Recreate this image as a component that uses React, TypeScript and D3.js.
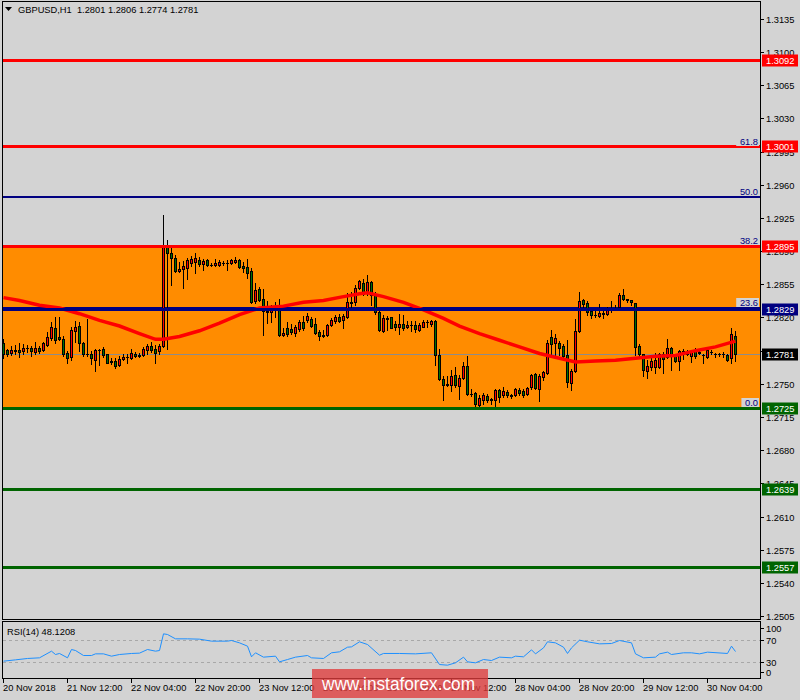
import React, { useEffect, useRef } from 'react';
import * as d3 from 'd3';

// GBPUSD H1, one entry per bar, 20 Nov 2018 20:00 -> 30 Nov 2018 11:00
const opens = [
  1.2793, 1.2786, 1.2783, 1.2786, 1.2786, 1.2785, 1.2788, 1.2788, 1.2784, 1.2788,
  1.2786, 1.2791, 1.2798, 1.2809, 1.2799, 1.2797, 1.2783, 1.2778, 1.2806, 1.2811,
  1.2793, 1.2781, 1.2782, 1.2775, 1.2786, 1.2787, 1.2781, 1.2773, 1.2774, 1.2770,
  1.2776, 1.2778, 1.2777, 1.2782, 1.2779, 1.2780, 1.2786, 1.2790, 1.2787, 1.2785,
  1.2790, 1.2895, 1.2888, 1.2883, 1.2869, 1.2871, 1.2872, 1.2878, 1.2879, 1.2881,
  1.2876, 1.2881, 1.2875, 1.2875, 1.2875, 1.2878, 1.2877, 1.2878, 1.2879, 1.2881,
  1.2874, 1.2873, 1.2869, 1.2837, 1.2850, 1.2839, 1.2827, 1.2826, 1.2829, 1.2832,
  1.2802, 1.2809, 1.2808, 1.2804, 1.2808, 1.2815, 1.2817, 1.2818, 1.2813, 1.2805,
  1.2801, 1.2802, 1.2812, 1.2816, 1.2821, 1.2817, 1.2820, 1.2836, 1.2836, 1.2851,
  1.2856, 1.2846, 1.2857, 1.2845, 1.2826, 1.2806, 1.2819, 1.2820, 1.2813, 1.2810,
  1.2813, 1.2810, 1.2812, 1.2812, 1.2807, 1.2810, 1.2815, 1.2813, 1.2816, 1.2780,
  1.2755, 1.2749, 1.2749, 1.2759, 1.2748, 1.2756, 1.2769, 1.2739, 1.2740, 1.2728,
  1.2733, 1.2737, 1.2733, 1.2733, 1.2743, 1.2738, 1.2741, 1.2738, 1.2738, 1.2744,
  1.2742, 1.2739, 1.2747, 1.2760, 1.2745, 1.2757, 1.2761, 1.2799, 1.2793, 1.2793,
  1.2790, 1.2780, 1.2751, 1.2764, 1.2806, 1.2838, 1.2835, 1.2827, 1.2823, 1.2822,
  1.2825, 1.2824, 1.2828, 1.2830, 1.2831, 1.2844, 1.2839, 1.2838, 1.2835, 1.2790,
  1.2781, 1.2764, 1.2768, 1.2768, 1.2768, 1.2781, 1.2778, 1.2788, 1.2780, 1.2774,
  1.2785, 1.2782, 1.2779, 1.2786, 1.2783, 1.2780, 1.2778, 1.2784, 1.2781, 1.2781,
  1.2782, 1.2780, 1.2777, 1.2801,
];
const highs = [
  1.2797, 1.2787, 1.2790, 1.2791, 1.2793, 1.2792, 1.2791, 1.2790, 1.2794, 1.2790,
  1.2794, 1.2805, 1.2815, 1.2820, 1.2821, 1.2800, 1.2785, 1.2810, 1.2816, 1.2815,
  1.2794, 1.2818, 1.2785, 1.2787, 1.2787, 1.2789, 1.2782, 1.2777, 1.2777, 1.2779,
  1.2781, 1.2782, 1.2787, 1.2784, 1.2783, 1.2789, 1.2792, 1.2794, 1.2791, 1.2792,
  1.2928, 1.2902, 1.2895, 1.2886, 1.2879, 1.2880, 1.2883, 1.2885, 1.2888, 1.2884,
  1.2882, 1.2882, 1.2877, 1.2882, 1.2881, 1.2880, 1.2881, 1.2882, 1.2884, 1.2882,
  1.2879, 1.2882, 1.2872, 1.2856, 1.2852, 1.2850, 1.2837, 1.2833, 1.2836, 1.2839,
  1.2809, 1.2815, 1.2813, 1.2812, 1.2817, 1.2822, 1.2825, 1.2821, 1.2819, 1.2807,
  1.2807, 1.2813, 1.2819, 1.2823, 1.2824, 1.2824, 1.2846, 1.2847, 1.2854, 1.2860,
  1.2861, 1.2865, 1.2858, 1.2847, 1.2827, 1.2823, 1.2822, 1.2821, 1.2816, 1.2824,
  1.2823, 1.2816, 1.2816, 1.2816, 1.2814, 1.2817, 1.2817, 1.2817, 1.2817, 1.2787,
  1.2758, 1.2758, 1.2765, 1.2768, 1.2759, 1.2773, 1.2779, 1.2745, 1.2741, 1.2738,
  1.2740, 1.2739, 1.2735, 1.2745, 1.2745, 1.2747, 1.2743, 1.2739, 1.2746, 1.2746,
  1.2745, 1.2747, 1.2760, 1.2761, 1.2760, 1.2764, 1.2796, 1.2807, 1.2803, 1.2795,
  1.2792, 1.2796, 1.2766, 1.2818, 1.2847, 1.2840, 1.2837, 1.2829, 1.2827, 1.2834,
  1.2827, 1.2831, 1.2837, 1.2833, 1.2846, 1.2850, 1.2840, 1.2838, 1.2835, 1.2792,
  1.2782, 1.2775, 1.2780, 1.2783, 1.2783, 1.2784, 1.2797, 1.2789, 1.2781, 1.2786,
  1.2787, 1.2786, 1.2786, 1.2788, 1.2786, 1.2782, 1.2786, 1.2786, 1.2783, 1.2783,
  1.2784, 1.2781, 1.2809, 1.2806,
];
const lows = [
  1.2777, 1.2779, 1.2780, 1.2781, 1.2778, 1.2782, 1.2784, 1.2779, 1.2782, 1.2783,
  1.2785, 1.2790, 1.2796, 1.2793, 1.2796, 1.2779, 1.2772, 1.2775, 1.2794, 1.2785,
  1.2779, 1.2779, 1.2771, 1.2764, 1.2770, 1.2778, 1.2772, 1.2771, 1.2767, 1.2769,
  1.2775, 1.2772, 1.2776, 1.2778, 1.2778, 1.2779, 1.2781, 1.2784, 1.2772, 1.2782,
  1.2789, 1.2787, 1.2854, 1.2868, 1.2868, 1.2851, 1.2861, 1.2874, 1.2867, 1.2874,
  1.2870, 1.2874, 1.2874, 1.2874, 1.2874, 1.2875, 1.2870, 1.2876, 1.2877, 1.2872,
  1.2868, 1.2862, 1.2835, 1.2835, 1.2837, 1.2802, 1.2814, 1.2815, 1.2821, 1.2801,
  1.2800, 1.2801, 1.2803, 1.2800, 1.2806, 1.2807, 1.2815, 1.2810, 1.2803, 1.2796,
  1.2799, 1.2801, 1.2811, 1.2814, 1.2815, 1.2809, 1.2819, 1.2828, 1.2833, 1.2850,
  1.2844, 1.2844, 1.2833, 1.2824, 1.2806, 1.2805, 1.2807, 1.2809, 1.2807, 1.2803,
  1.2807, 1.2809, 1.2806, 1.2805, 1.2806, 1.2810, 1.2810, 1.2811, 1.2770, 1.2754,
  1.2733, 1.2748, 1.2742, 1.2747, 1.2734, 1.2755, 1.2738, 1.2737, 1.2724, 1.2727,
  1.2729, 1.2731, 1.2729, 1.2726, 1.2731, 1.2736, 1.2736, 1.2735, 1.2737, 1.2738,
  1.2736, 1.2738, 1.2745, 1.2745, 1.2732, 1.2754, 1.2760, 1.2779, 1.2780, 1.2780,
  1.2775, 1.2747, 1.2743, 1.2763, 1.2805, 1.2831, 1.2823, 1.2819, 1.2821, 1.2821,
  1.2819, 1.2823, 1.2826, 1.2829, 1.2831, 1.2838, 1.2836, 1.2833, 1.2780, 1.2779,
  1.2758, 1.2756, 1.2765, 1.2761, 1.2767, 1.2761, 1.2777, 1.2765, 1.2773, 1.2765,
  1.2776, 1.2780, 1.2773, 1.2777, 1.2781, 1.2772, 1.2777, 1.2781, 1.2778, 1.2779,
  1.2778, 1.2774, 1.2772, 1.2774,
];
const closes = [
  1.2781, 1.2782, 1.2786, 1.2785, 1.2784, 1.2788, 1.2788, 1.2785, 1.2788, 1.2785,
  1.2793, 1.2799, 1.2810, 1.2796, 1.2797, 1.2781, 1.2777, 1.2807, 1.2810, 1.2793,
  1.2781, 1.2782, 1.2777, 1.2786, 1.2786, 1.2780, 1.2772, 1.2774, 1.2769, 1.2776,
  1.2778, 1.2778, 1.2783, 1.2779, 1.2780, 1.2787, 1.2790, 1.2786, 1.2783, 1.2790,
  1.2896, 1.2888, 1.2883, 1.2869, 1.2871, 1.2874, 1.2881, 1.2882, 1.2883, 1.2876,
  1.2880, 1.2875, 1.2875, 1.2877, 1.2879, 1.2877, 1.2877, 1.2881, 1.2881, 1.2873,
  1.2872, 1.2867, 1.2836, 1.2849, 1.2838, 1.2827, 1.2826, 1.2829, 1.2828, 1.2802,
  1.2804, 1.2803, 1.2805, 1.2810, 1.2815, 1.2809, 1.2822, 1.2811, 1.2804, 1.2801,
  1.2802, 1.2812, 1.2817, 1.2820, 1.2816, 1.2822, 1.2836, 1.2835, 1.2851, 1.2858,
  1.2845, 1.2857, 1.2844, 1.2826, 1.2807, 1.2819, 1.2818, 1.2809, 1.2810, 1.2813,
  1.2809, 1.2812, 1.2812, 1.2808, 1.2812, 1.2815, 1.2815, 1.2816, 1.2780, 1.2755,
  1.2749, 1.2750, 1.2758, 1.2749, 1.2756, 1.2769, 1.2739, 1.2739, 1.2729, 1.2735,
  1.2738, 1.2733, 1.2734, 1.2743, 1.2736, 1.2742, 1.2738, 1.2737, 1.2745, 1.2740,
  1.2738, 1.2746, 1.2759, 1.2746, 1.2758, 1.2762, 1.2793, 1.2792, 1.2798, 1.2788,
  1.2779, 1.2752, 1.2764, 1.2806, 1.2837, 1.2834, 1.2826, 1.2823, 1.2823, 1.2825,
  1.2824, 1.2828, 1.2830, 1.2830, 1.2844, 1.2839, 1.2838, 1.2836, 1.2789, 1.2782,
  1.2765, 1.2769, 1.2774, 1.2775, 1.2782, 1.2776, 1.2788, 1.2779, 1.2774, 1.2785,
  1.2781, 1.2783, 1.2785, 1.2779, 1.2784, 1.2780, 1.2786, 1.2784, 1.2781, 1.2781,
  1.2782, 1.2775, 1.2803, 1.2781,
];

// moving average (red line), read at some bars
const maBars = [0, 4, 9, 14, 19, 24, 29, 34, 38, 40, 44, 49, 54, 59, 64, 70, 75, 80, 85, 89,
  91, 95, 100, 105, 110, 114, 119, 124, 129, 134, 139, 143, 148, 153, 158, 163, 168, 173, 178, 183];
const maValues = [1.2841, 1.2838, 1.2833, 1.2830, 1.2824, 1.2817, 1.2811, 1.2803, 1.2797, 1.2797,
  1.2800, 1.2806, 1.2814, 1.2823, 1.2830, 1.2832, 1.2836, 1.2838, 1.2842, 1.2845,
  1.2846, 1.2842, 1.2836, 1.2828, 1.2819, 1.2811, 1.2803, 1.2796, 1.2789, 1.2782,
  1.2777, 1.2773, 1.2774, 1.2775, 1.2777, 1.2779, 1.2780, 1.2785, 1.2789, 1.2795];

// RSI(14)
const rsiBars = [0, 3, 6, 9, 12, 13, 14, 16, 17, 18, 20, 22, 23, 25, 27, 29, 32, 34, 36, 38,
  39, 40, 41, 43, 46, 49, 52, 56, 57, 59, 61, 62, 63, 65, 68, 69, 71, 73, 76, 77,
  80, 82, 84, 86, 87, 89, 91, 94, 95, 99, 103, 107, 109, 111, 113, 115, 116, 118, 120, 122,
  124, 127, 128, 130, 132, 133, 135, 136, 138, 140, 141, 142, 144, 146, 149, 152, 154, 157, 158, 160,
  163, 164, 166, 167, 170, 172, 174, 176, 181, 182, 183];
const rsiValues = [30.6, 33, 35.5, 36.7, 48.8, 42.7, 44.6, 36.7, 51.8, 50, 40.9, 40.9, 43.9, 43.9, 39.7, 42.7, 44.6, 45.2, 51.8, 48.8,
  50, 80.3, 79.1, 71.2, 71.2, 70.6, 67, 67, 68.2, 63.9, 57.9, 38.5, 45.8, 37.9, 39.7, 29.4, 33.6, 37.9, 40.9, 36.7,
  35.5, 45.8, 47.6, 56, 56.6, 65.8, 60.9, 41.5, 44.6, 44.6, 43.9, 45.8, 24.5, 23.3, 27.6, 37.9, 29.4, 27.6, 33.6, 31.8,
  37.9, 36.7, 39.7, 38.5, 51.2, 43.9, 54.8, 65.8, 63.9, 56, 44.6, 54.8, 68.8, 65.8, 62.1, 62.7, 68.2, 63.9, 43.9, 36.7,
  37.9, 43.9, 47, 42.7, 45.8, 45.8, 43.9, 47, 44.6, 57.9, 48.1];

const timeLabels = ['20 Nov 2018', '21 Nov 12:00', '22 Nov 04:00', '22 Nov 20:00', '23 Nov 12:00', '26 Nov 04:00',
  '26 Nov 20:00', '27 Nov 12:00', '28 Nov 04:00', '28 Nov 20:00', '29 Nov 12:00', '30 Nov 04:00'];
const timeLabelBars = [0, 16, 32, 48, 64, 80, 96, 112, 128, 144, 160, 176];

const priceTicks = [1.3135, 1.3100, 1.3065, 1.3030, 1.2995, 1.2960, 1.2925, 1.2890, 1.2855, 1.2820,
  1.2785, 1.2750, 1.2715, 1.2680, 1.2645, 1.2610, 1.2575, 1.2540, 1.2505];

const redLevels = [1.3092, 1.3001, 1.2895];
const greenLevels = [1.2725, 1.2639, 1.2557];
const blueLevels = [1.2829];
const zoneTop = 1.2895;
const zoneBottom = 1.2725;
const fibLow = 1.2725;
const fibHigh = 1.3170;
const fibLevels = [0, 23.6, 38.2, 50, 61.8, 100];
const lastPrice = 1.2781;
const rsiLast = '48.1208';
const rsiLevels = [70, 30];
const rsiTicks = [100, 70, 30, 0];

const FONT = "'Liberation Sans', Arial, sans-serif";
const FS = 9.3;

const App: React.FC = () => {
  const ref = useRef<SVGSVGElement>(null);

  useEffect(() => {
    drawChart();
  // eslint-disable-next-line react-hooks/exhaustive-deps
  }, []);

  const drawChart = () => {
    const svg = d3.select(ref.current);
    svg.selectAll('*').remove();

    const left = 2, right = 760;
    const mainTop = 1, mainBottom = 619;
    const rsiTop = 621, rsiBottom = 678;

    const x = d3.scaleLinear().domain([0, 1]).range([3.5, 7.5]); // 4px per bar
    const y = d3.scaleLinear().domain([1.2505, 1.3135]).range([616, 19]);
    const ry = d3.scaleLinear().domain([0, 100]).range([rsiBottom, rsiTop + 2]);
    const py = (p: number) => Math.round(y(p));

    svg.append('rect').attr('width', 800).attr('height', 700).attr('fill', '#d3d3d3');

    svg.append('defs').append('clipPath').attr('id', 'main-clip')
      .append('rect').attr('x', left + 1).attr('y', mainTop + 1)
      .attr('width', right - left - 1).attr('height', mainBottom - mainTop - 1);

    const g = svg.append('g').attr('clip-path', 'url(#main-clip)');

    // orange zone
    g.append('rect')
      .attr('x', left).attr('width', right - left)
      .attr('y', py(zoneTop)).attr('height', py(zoneBottom) - py(zoneTop))
      .attr('fill', '#ff8c00');

    // fibonacci levels
    const fibPrice = (l: number) => fibLow + (fibHigh - fibLow) * l / 100;
    g.selectAll('.fib').data(fibLevels).enter().append('line')
      .attr('x1', left).attr('x2', right)
      .attr('y1', d => py(fibPrice(d))).attr('y2', d => py(fibPrice(d)))
      .attr('stroke', '#000080').attr('stroke-width', 2);

    // bid line
    g.append('line')
      .attr('x1', left).attr('x2', right)
      .attr('y1', py(lastPrice) + 0.5).attr('y2', py(lastPrice) + 0.5)
      .attr('stroke', '#8c8c8c').attr('stroke-width', 1);

    // candles
    const idx = d3.range(opens.length);
    const cg = g.append('g');
    cg.selectAll('.wick').data(idx).enter().append('line')
      .attr('x1', i => x(i)).attr('x2', i => x(i))
      .attr('y1', i => py(highs[i])).attr('y2', i => py(lows[i]) + 1)
      .attr('stroke', '#000').attr('stroke-width', 1);
    cg.selectAll('.body').data(idx).enter().append('rect')
      .attr('x', i => x(i) - 1.5).attr('width', 3)
      .attr('y', i => Math.min(py(opens[i]), py(closes[i])))
      .attr('height', i => Math.max(1, Math.abs(py(opens[i]) - py(closes[i])) + 1))
      .attr('fill', '#000');
    cg.selectAll('.fill').data(idx.filter(i => Math.abs(py(opens[i]) - py(closes[i])) > 1)).enter().append('rect')
      .attr('x', i => x(i) - 0.5).attr('width', 1)
      .attr('y', i => Math.min(py(opens[i]), py(closes[i])) + 1)
      .attr('height', i => Math.abs(py(opens[i]) - py(closes[i])) - 1)
      .attr('fill', i => (closes[i] > opens[i] ? '#ff0000' : '#007000'));

    // moving average
    const maLine = d3.line<number>().x(k => x(maBars[k])).y(k => y(maValues[k]));
    g.append('path').attr('d', maLine(d3.range(maBars.length)) as string)
      .attr('fill', 'none').attr('stroke', '#ff0000').attr('stroke-width', 3.5);

    // horizontal levels
    const levels = [
      ...redLevels.map(v => ({ v, c: '#ff0000' })),
      ...blueLevels.map(v => ({ v, c: '#000080' })),
      ...greenLevels.map(v => ({ v, c: '#006400' })),
    ];
    g.selectAll('.lvl').data(levels).enter().append('line')
      .attr('x1', left).attr('x2', right)
      .attr('y1', d => py(d.v) + 0.5).attr('y2', d => py(d.v) + 0.5)
      .attr('stroke', d => d.c).attr('stroke-width', 3);

    // fib labels
    const fl = svg.append('g');
    fibLevels.filter(l => fibPrice(l) < 1.3150).forEach(l => {
      const yy = py(fibPrice(l)) - 2;
      const txt = l.toFixed(1);
      fl.append('rect').attr('x', 757 - txt.length * 5.2).attr('y', yy - 8)
        .attr('width', txt.length * 5.2 + 2).attr('height', 9).attr('fill', '#d3d3d3');
      fl.append('text').attr('x', 758).attr('y', yy)
        .attr('text-anchor', 'end').attr('font-family', FONT).attr('font-size', FS)
        .attr('fill', '#000080').text(txt);
    });

    // frames
    svg.append('rect').attr('x', left + 0.5).attr('y', mainTop + 0.5)
      .attr('width', right - left).attr('height', mainBottom - mainTop)
      .attr('fill', 'none').attr('stroke', '#000');
    svg.append('rect').attr('x', left + 0.5).attr('y', rsiTop + 0.5)
      .attr('width', right - left).attr('height', rsiBottom - rsiTop)
      .attr('fill', 'none').attr('stroke', '#000');

    // price axis
    const ax = svg.append('g');
    priceTicks.forEach(t => {
      ax.append('line').attr('x1', right).attr('x2', right + 4)
        .attr('y1', py(t) + 0.5).attr('y2', py(t) + 0.5).attr('stroke', '#000');
      ax.append('text').attr('x', 766).attr('y', py(t) + 3.5)
        .attr('font-family', FONT).attr('font-size', FS).attr('fill', '#000').text(t.toFixed(4));
    });

    const boxes = [
      ...levels.map(d => ({ v: d.v, c: d.c })),
      { v: lastPrice, c: '#000000' },
    ];
    boxes.forEach(b => {
      const yy = py(b.v) + 0.5;
      ax.append('rect').attr('x', 762).attr('y', yy - 6).attr('width', 36).attr('height', 12).attr('fill', b.c);
      ax.append('text').attr('x', 766).attr('y', yy + 3.5)
        .attr('font-family', FONT).attr('font-size', FS).attr('fill', '#fff').text(b.v.toFixed(4));
    });

    // title
    svg.append('path').attr('d', 'M5,7 L12,7 L8.5,11 Z').attr('fill', '#000');
    svg.append('text').attr('x', 18).attr('y', 13)
      .attr('font-family', FONT).attr('font-size', FS).attr('fill', '#000')
      .attr('xml:space', 'preserve')
      .text(`GBPUSD,H1  ${opens[opens.length - 1].toFixed(4)} ${highs[highs.length - 1].toFixed(4)} ${lows[lows.length - 1].toFixed(4)} ${lastPrice.toFixed(4)}`);

    // RSI
    svg.selectAll('.rsil').data(rsiLevels).enter().append('line')
      .attr('x1', left + 1).attr('x2', right)
      .attr('y1', d => Math.round(ry(d)) + 0.5).attr('y2', d => Math.round(ry(d)) + 0.5)
      .attr('stroke', '#a8a8a8').attr('stroke-dasharray', '3,3');
    const rsiLine = d3.line<number>().x(k => x(rsiBars[k])).y(k => ry(rsiValues[k]));
    svg.append('path').attr('d', rsiLine(d3.range(rsiBars.length)) as string)
      .attr('fill', 'none').attr('stroke', '#1e90ff').attr('stroke-width', 1);
    svg.append('text').attr('x', 7).attr('y', 635)
      .attr('font-family', FONT).attr('font-size', FS).attr('fill', '#000')
      .text(`RSI(14) ${rsiLast}`);
    rsiTicks.forEach(t => {
      const yy = Math.max(rsiTop + 7, Math.min(rsiBottom - 6, Math.round(ry(t))));
      ax.append('line').attr('x1', right).attr('x2', right + 4)
        .attr('y1', yy + 0.5).attr('y2', yy + 0.5).attr('stroke', '#000');
      ax.append('text').attr('x', 766).attr('y', yy + 3.5)
        .attr('font-family', FONT).attr('font-size', FS).attr('fill', '#000').text(String(t));
    });

    // time axis
    timeLabelBars.forEach((b, k) => {
      const xx = Math.floor(x(b)) + 0.5;
      svg.append('line').attr('x1', xx).attr('x2', xx).attr('y1', rsiBottom).attr('y2', rsiBottom + 5)
        .attr('stroke', '#000');
      svg.append('text').attr('x', xx - 0.5).attr('y', 691)
        .attr('font-family', FONT).attr('font-size', FS).attr('fill', '#000').text(timeLabels[k]);
    });

    // watermark
    svg.append('rect').attr('x', 312).attr('y', 669).attr('width', 176).attr('height', 29)
      .attr('fill', '#e03c3c').attr('opacity', 0.78);
    svg.append('text').attr('x', 322).attr('y', 690)
      .attr('font-family', FONT).attr('font-size', 18).attr('fill', '#fff')
      .attr('textLength', 153).attr('lengthAdjust', 'spacingAndGlyphs')
      .text('www.instaforex.com');
  };

  return (
    <svg ref={ref} width={800} height={700}
      style={{ position: 'absolute', left: 0, top: 0, display: 'block' }} />
  );
};

export default App;
